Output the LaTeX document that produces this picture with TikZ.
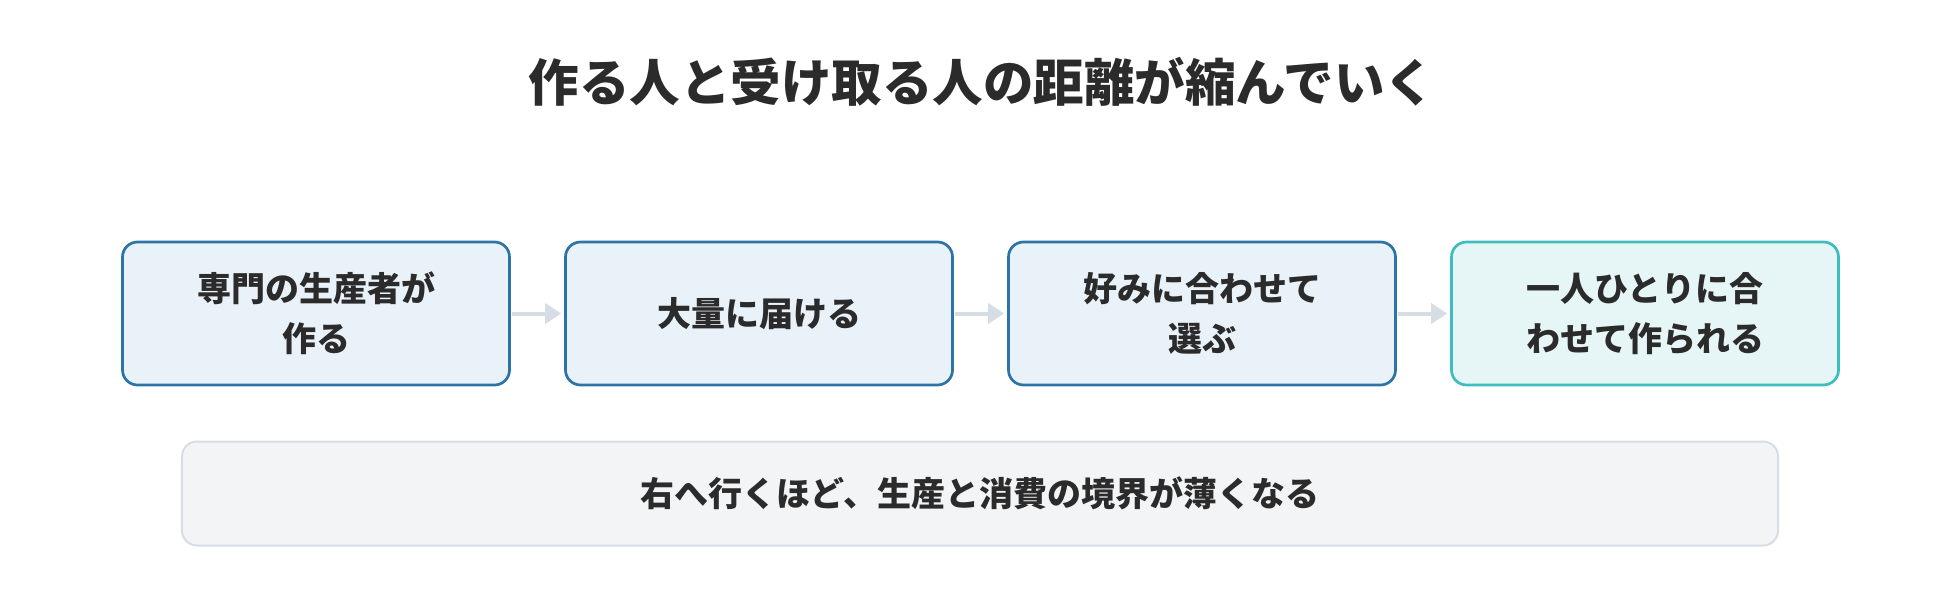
\documentclass[tikz,border=0pt]{standalone}
\usepackage{fontspec}
\setmainfont{Noto Sans CJK JP}
\usetikzlibrary{arrows.meta}
\definecolor{txt}{HTML}{2B2B2B}
\definecolor{bluebd}{HTML}{2C73A6}
\definecolor{bluefill}{HTML}{EAF2F9}
\definecolor{tealbd}{HTML}{3DBDBE}
\definecolor{tealfill}{HTML}{E6F6F6}
\definecolor{graybd}{HTML}{D6DDE5}
\definecolor{grayfill}{HTML}{F3F4F6}
\definecolor{arrowc}{HTML}{D6DDE5}
\tikzset{
  stagebox/.style={draw=bluebd, fill=bluefill, line width=2.7bp, rounded corners=15bp,
    minimum width=387bp, minimum height=143bp, inner sep=0pt, align=center,
    text=txt, font=\fontsize{34bp}{50bp}\selectfont\bfseries},
  lastbox/.style={stagebox, draw=tealbd, fill=tealfill},
  notebox/.style={draw=graybd, fill=grayfill, line width=2bp, rounded corners=15bp,
    minimum width=1596bp, minimum height=104bp, inner sep=0pt, align=center,
    text=txt, font=\fontsize{34bp}{50bp}\selectfont\bfseries},
  flow/.style={draw=arrowc, line width=4bp, -{Triangle[length=16bp,width=20bp]},
    shorten >=3bp, shorten <=1bp},
  titletext/.style={text=txt, font=\fontsize{50.5bp}{60bp}\selectfont\bfseries, inner sep=0pt}
}
\begin{document}
\begin{tikzpicture}[x=1bp,y=-1bp]
\path[use as bounding box] (0,0) rectangle (1960,600);
\node[titletext] (title) at (982,82) {作る人と受け取る人の距離が縮んでいく};
\node[stagebox] (s1) at (316,313.5) {専門の生産者が\\作る};
\node[stagebox] (s2) at (759,313.5) {大量に届ける};
\node[stagebox] (s3) at (1202,313.5) {好みに合わせて\\選ぶ};
\node[lastbox] (s4) at (1645,313.5) {一人ひとりに合\\わせて作られる};
\draw[flow] (s1.east) -- (s2.west);
\draw[flow] (s2.east) -- (s3.west);
\draw[flow] (s3.east) -- (s4.west);
\node[notebox] (note) at (980,493.5) {右へ行くほど、生産と消費の境界が薄くなる};
\end{tikzpicture}
\end{document}
